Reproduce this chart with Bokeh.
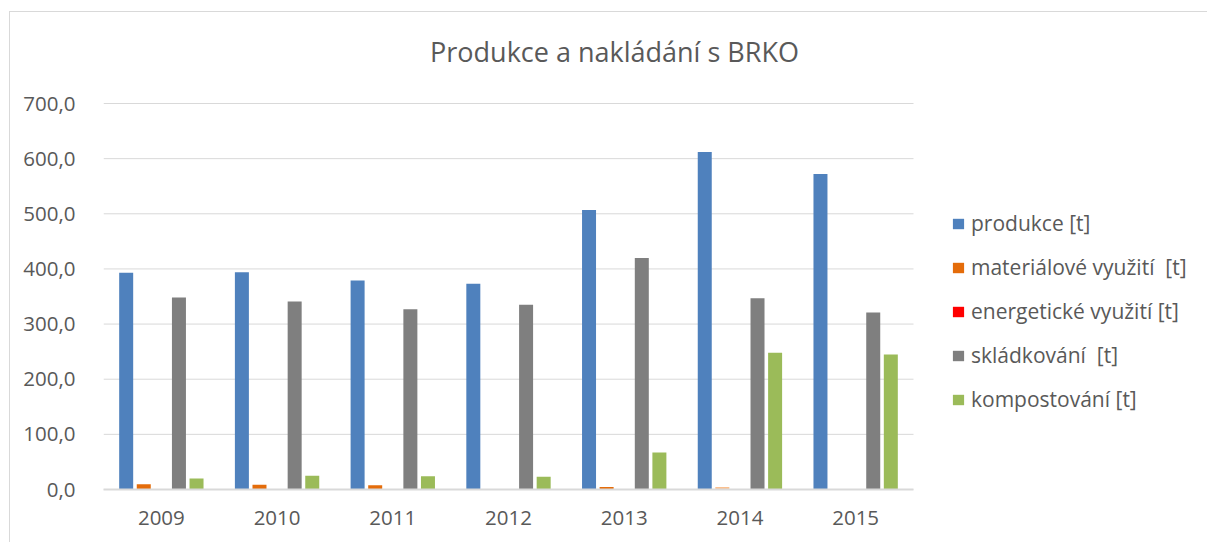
from bokeh.plotting import figure
from bokeh.models import (ColumnDataSource, Range1d, Legend, LegendItem, Label,
                          CustomJSTickFormatter, FixedTicker)
from bokeh.transform import dodge
from bokeh.embed import file_html
from bokeh.resources import INLINE

years = ["2009", "2010", "2011", "2012", "2013", "2014", "2015"]
produkce = [393, 394, 379, 373, 507, 612, 572]
materialove = [9.5, 8.5, 7.5, 0, 4.5, 4.5, 0]
materialove_colors = ["#e46c0a", "#e46c0a", "#e46c0a", "#e46c0a", "#e46c0a", "#fac090", "#e46c0a"]
energeticke = [0, 0, 0, 0, 0, 0, 0]
skladkovani = [348, 341, 327, 335, 420, 347, 321]
kompostovani = [20, 25, 24, 23, 67, 248, 245]

series_names = ["produkce [t]", "materiálové využití  [t]", "energetické využití [t]",
                "skládkování  [t]", "kompostování [t]"]
series_colors = ["#4f81bd", "#e46c0a", "#ff0000", "#7f7f7f", "#9bbb59"]
y_ticks = [0, 100, 200, 300, 400, 500, 600, 700]
y_max = 700

# layout geometry (pixels)
W, H = 1198, 531
LEFT, BOTTOM = 93, 54
PLOT_W, PLOT_H = 810, 386          # width/height of the bar area (axes box)
frame_w = W - LEFT
frame_h = H - BOTTOM

centers = [i + 0.5 for i in range(len(years))]
source = ColumnDataSource(dict(
    xc=centers, produkce=produkce, materialove=materialove, mat_col=materialove_colors,
    energeticke=energeticke, skladkovani=skladkovani, kompostovani=kompostovani,
))

FONT = "Open Sans"
TXT = "#595959"
GRID = "#d9d9d9"

n = len(years)
x_range = Range1d(0, n * frame_w / PLOT_W)
y_range = Range1d(0, y_max * frame_h / PLOT_H)

p = figure(x_range=x_range, y_range=y_range,
           width=W, height=H, output_backend="svg", toolbar_location=None,
           min_border_left=LEFT, min_border_right=0, min_border_top=0, min_border_bottom=BOTTOM,
           outline_line_color=None, background_fill_color="white", border_fill_color="white")
p.styles = {"border-left": "1px solid #d9d9d9", "border-top": "1px solid #d9d9d9",
            "margin-left": "9px", "margin-top": "11px"}

# horizontal gridlines over the category area only
p.segment(x0=0, x1=n, y0=y_ticks, y1=y_ticks, line_color=GRID, line_width=1)

bw = 0.121
offs = [-0.304, -0.152, 0.0, 0.152, 0.304]
cols = ["produkce", "materialove", "energeticke", "skladkovani", "kompostovani"]
renderers = []
for i, c in enumerate(cols):
    fill = "mat_col" if c == "materialove" else series_colors[i]
    r = p.vbar(x=dodge("xc", offs[i]), top=c, width=bw, source=source,
               fill_color=fill, line_color=None)
    renderers.append(r)

legend = Legend(items=[LegendItem(label=nm, renderers=[r]) for nm, r in zip(series_names, renderers)],
                location=(848, 76))
legend.label_text_font = FONT
legend.label_text_font_size = "21px"
legend.label_text_color = TXT
legend.glyph_width = 14
legend.glyph_height = 13
legend.label_height = 28
legend.spacing = 16
legend.padding = 10
legend.margin = 0
legend.border_line_color = None
legend.background_fill_alpha = 0
legend.label_standoff = 6
p.add_layout(legend, "center")

title = Label(x=511, y=438, x_units="screen", y_units="screen",
              text="Produkce a nakládání s BRKO", text_align="center",
              text_baseline="alphabetic", text_font=FONT, text_font_size="27px",
              text_color=TXT)
p.add_layout(title)

p.yaxis.ticker = FixedTicker(ticks=y_ticks)
p.yaxis.formatter = CustomJSTickFormatter(code="return tick.toFixed(1).replace('.', ',');")
p.yaxis.axis_line_color = None
p.yaxis.major_tick_line_color = None
p.yaxis.minor_tick_line_color = None
p.yaxis.major_label_text_font = FONT
p.yaxis.major_label_text_font_size = "20.5px"
p.yaxis.major_label_text_color = TXT
p.yaxis.major_label_standoff = 22

p.xaxis.ticker = FixedTicker(ticks=centers)
p.xaxis.major_label_overrides = {c: y for c, y in zip(centers, years)}
p.xaxis.bounds = (0, n)
p.xaxis.axis_line_color = GRID
p.xaxis.axis_line_width = 2
p.xaxis.major_tick_line_color = None
p.xaxis.minor_tick_line_color = None
p.xaxis.major_label_text_font = FONT
p.xaxis.major_label_text_font_size = "20.5px"
p.xaxis.major_label_text_color = TXT
p.xaxis.major_label_standoff = 15

p.xgrid.grid_line_color = None
p.ygrid.grid_line_color = None

open("out.html", "w").write(file_html(p, INLINE))
